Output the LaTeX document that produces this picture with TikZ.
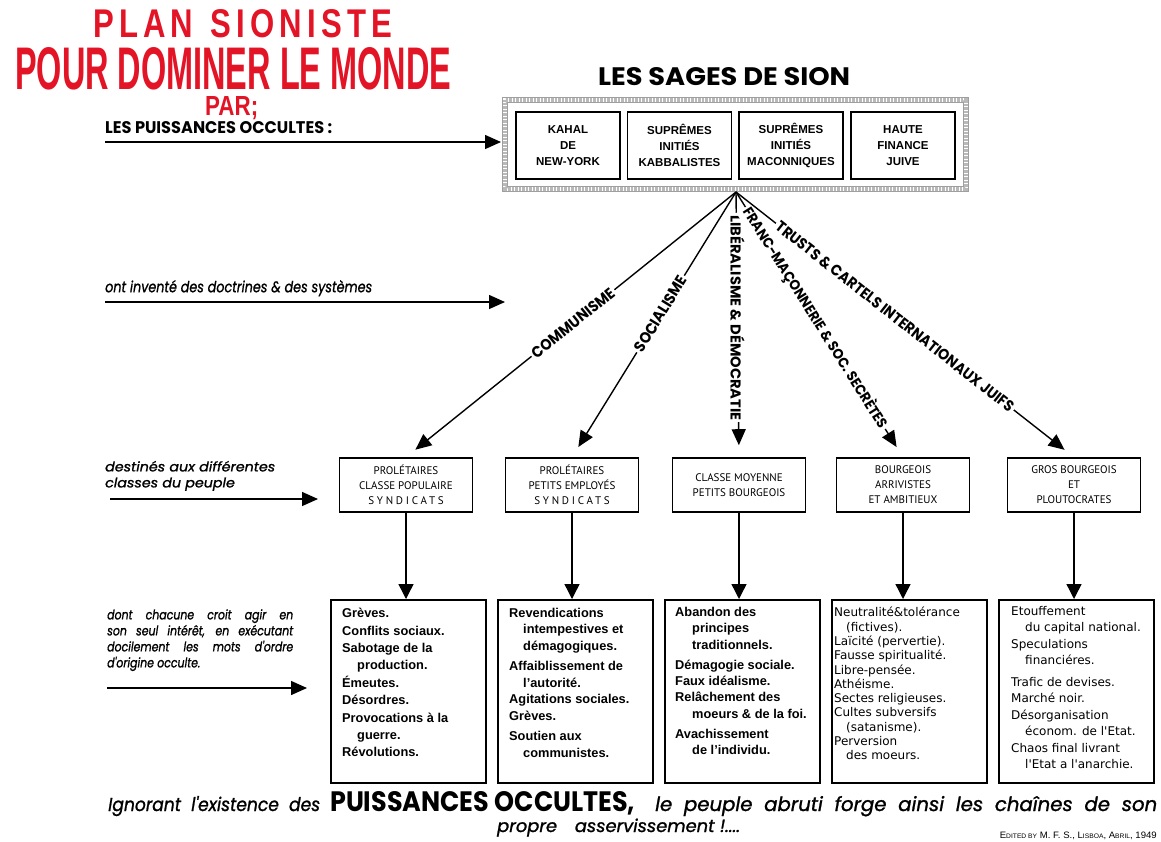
\documentclass[tikz,border=0pt]{standalone}
\usepackage{graphicx}
\usepackage{fontspec}
\setmainfont{Liberation Sans}
\newfontfamily\geo{Poppins}
\newfontfamily\pts{PT Sans}
\newfontfamily\dvs{DejaVu Sans}
\usetikzlibrary{arrows.meta,calc}
\definecolor{titlered}{RGB}{226,20,38}
\newcommand{\geoitm}{\geo\itshape\addfontfeature{FakeBold=1.2}}
\begin{document}
\begin{tikzpicture}[x=1pt,y=-1pt,
  arr/.style={line width=1.4pt, -{Triangle[length=16pt,width=14pt]}},
  fan/.style={line width=1.4pt, -{Triangle[length=16pt,width=14pt]}, shorten >=12pt},
  downarr/.style={line width=1.4pt, -{Triangle[length=15pt,width=15pt]}},
  topbox/.style={draw, line width=1.3pt, minimum width=104pt, minimum height=67pt, align=center, font=\fontsize{11.5}{16}\selectfont\bfseries, inner sep=0pt},
  classbox/.style={draw, line width=1.6pt, minimum width=133pt, minimum height=54pt, align=center, font=\pts\fontsize{11}{15}\selectfont, inner sep=0pt},
  effbox/.style={draw, line width=1.8pt, minimum width=155pt, minimum height=183pt, anchor=north west, inner sep=0pt},
  efftext/.style={anchor=north west, align=left, inner sep=0pt},
  lbl/.style={fill=white, inner sep=2pt, sloped},
  lblv/.style={fill=white, inner sep=2pt, rotate=-90},
  plain/.style={anchor=north west, inner sep=0pt},
]
\useasboundingbox (0,0) rectangle (1161,841);
\fill[white] (0,0) rectangle (1161,841);

% titles
\node[plain, text=titlered] (t1) at (93,9) {\resizebox{299pt}{28pt}{\bfseries P\,L\,A\,N\ \ S\,I\,O\,N\,I\,S\,T\,E}};
\node[plain, text=titlered] (t2) at (15,47) {\resizebox{436pt}{42pt}{\bfseries POUR DOMINER LE MONDE}};
\node[plain, text=titlered] (t3) at (205,96) {\resizebox{53pt}{19pt}{\bfseries PAR;}};
\node[plain] (t4) at (105,121) {\resizebox{227pt}{12pt}{\geo\bfseries LES PUISSANCES OCCULTES :}};
\node[plain] (sages) at (598,67) {\resizebox{252pt}{18pt}{\geo\bfseries LES SAGES DE SION}};

% frame of the top group
\node[minimum width=460pt, minimum height=88pt, anchor=north west, inner sep=0pt] (frame) at (505,100) {};
\draw[line width=5pt, gray!55, dash pattern=on 0.7pt off 0.7pt] (frame.north west) rectangle (frame.south east);
\draw[line width=0.5pt, gray!75] ($(frame.north west)+(-2.5,-2.5)$) rectangle ($(frame.south east)+(2.5,2.5)$);
\draw[line width=0.5pt, gray!75] ($(frame.north west)+(2.5,2.5)$) rectangle ($(frame.south east)+(-2.5,-2.5)$);

\node[topbox] (k1) at (568,145.5) {KAHAL\\DE\\NEW-YORK};
\node[topbox] (k2) at (679.5,145.5) {SUPRÊMES\\INITIÉS\\KABBALISTES};
\node[topbox] (k3) at (791,145.5) {SUPRÊMES\\INITIÉS\\MACONNIQUES};
\node[topbox] (k4) at (903,145.5) {HAUTE\\FINANCE\\JUIVE};

\coordinate (a1s) at (105,142);
\draw[arr] (a1s) -- ($(frame.west |- a1s)+(-4,0)$) coordinate (a1e);

% class boxes
\node[classbox] (ca) at (406,485) {PROLÉTAIRES\\CLASSE POPULAIRE\\{\addfontfeature{LetterSpace=25}SYNDICATS}};
\node[classbox] (cb) at (572,485) {PROLÉTAIRES\\PETITS EMPLOYÉS\\{\addfontfeature{LetterSpace=25}SYNDICATS}};
\node[classbox] (cc) at (739,485) {CLASSE MOYENNE\\PETITS BOURGEOIS};
\node[classbox] (cd) at (903,485) {BOURGEOIS\\ARRIVISTES\\ET AMBITIEUX};
\node[classbox] (ce) at (1074,485) {GROS BOURGEOIS\\ET\\PLOUTOCRATES};

% fan
\coordinate (apex) at (736,192);
\draw[fan] (apex) -- node[lbl,pos=0.494]{\resizebox{102pt}{11pt}{\geo\bfseries COMMUNISME}} (ca.north);
\draw[fan] (apex) -- node[lbl,pos=0.46]{\resizebox{86pt}{11pt}{\geo\bfseries SOCIALISME}} (cb.north);
\draw[fan] (apex) -- node[lblv,pos=0.475]{\resizebox{205pt}{14pt}{\geo\bfseries LIBÉRALISME \& DÉMOCRATIE}} (cc.north);
\draw[fan] (apex) -- node[lbl,pos=0.475]{\resizebox{258pt}{14pt}{\geo\bfseries FRANC-MAÇONNERIE \& SOC. SECRÈTES}} (cd.north);
\draw[fan] (apex) -- node[lbl,pos=0.47]{\resizebox{298pt}{11pt}{\geo\bfseries TRUSTS \& CARTELS INTERNATIONAUX JUIFS}} (ce.north);

% effect boxes
\node[effbox] (ea) at (330,599) {};
\node[effbox] (eb) at (497,599) {};
\node[effbox] (ec) at (664,599) {};
\node[effbox] (ed) at (831,599) {};
\node[effbox] (ee) at (998,599) {};

\foreach \c/\e in {ca/ea,cb/eb,cc/ec,cd/ed,ce/ee}
  \draw[downarr] (\c.south) -- (\c.south |- \e.north);

\node[efftext, font=\bfseries\fontsize{12.8}{17.4}\selectfont] (ta) at (342,608) {Grèves.\\
Conflits sociaux.\\
Sabotage de la\\
\hspace*{15pt}production.\\
Émeutes.\\
Désordres.\\
Provocations à la\\
\hspace*{15pt}guerre.\\
Révolutions.};

\node[efftext, font=\bfseries\fontsize{12.8}{16.5}\selectfont] (tb) at (509,608) {Revendications\\
\hspace*{14pt}intempestives et\\
\hspace*{14pt}démagogiques.\\[4pt]
Affaiblissement de\\
\hspace*{14pt}l'autorité.\\
Agitations sociales.\\
Grèves.\\[4pt]
Soutien aux\\
\hspace*{14pt}communistes.};

\node[efftext, font=\bfseries\fontsize{12.8}{16.3}\selectfont] (tc) at (675,607) {Abandon des\\
\hspace*{17pt}principes\\
\hspace*{17pt}traditionnels.\\[4pt]
Démagogie sociale.\\
Faux idéalisme.\\
Relâchement des\\
\hspace*{17pt}moeurs \& de la foi.\\[4pt]
Avachissement\\
\hspace*{17pt}de l'individu.};

\node[efftext, font=\dvs\fontsize{12}{14.3}\selectfont] (td) at (834,607) {Neutralité\&tolérance\\
\hspace*{12pt}(fictives).\\
Laïcité (pervertie).\\
Fausse spiritualité.\\
Libre-pensée.\\
Athéisme.\\
Sectes religieuses.\\
Cultes subversifs\\
\hspace*{12pt}(satanisme).\\
Perversion\\
\hspace*{12pt}des moeurs.};

\node[efftext, font=\dvs\fontsize{12}{16.5}\selectfont] (te) at (1011,606) {Etouffement\\
\hspace*{14pt}du capital national.\\
Speculations\\
\hspace*{14pt}financiéres.\\[5pt]
Trafic de devises.\\
Marché noir.\\
Désorganisation\\
\hspace*{14pt}économ. de l'Etat.\\
Chaos final livrant\\
\hspace*{14pt}l'Etat a l'anarchie.};

% left column
\node[plain] (l2) at (105,280) {\resizebox*{267pt}{16pt}{\geoitm ont inventé des doctrines \& des systèmes}};
\coordinate (a2s) at (105,302);
\coordinate (a2e) at (505,302);
\draw[arr] (a2s) -- (a2e);

\node[plain] (l3) at (105,460) {\resizebox*{170pt}{32pt}{\geoitm\begin{tabular}{@{}l@{}}destinés aux différentes\\classes du peuple\end{tabular}}};
\coordinate (a3s) at (110,499);
\coordinate (a3e) at (318,499);
\draw[arr] (a3s) -- (a3e);

\node[plain] (l4) at (107,608) {\resizebox*{186pt}{64pt}{\geoitm\begin{tabular}{@{}l@{}}\makebox[170pt][s]{dont chacune croit agir en}\\\makebox[170pt][s]{son seul intérêt, en exécutant}\\\makebox[170pt][s]{docilement les mots d'ordre}\\d'origine occulte.\end{tabular}}};
\coordinate (a4s) at (107,688);
\coordinate (a4e) at (307,688);
\draw[arr] (a4s) -- (a4e);

% bottom
\node[anchor=base west, inner sep=0pt] (b1) at (108,811) {\resizebox{212pt}{15pt}{\geoitm Ignorant\ \ l'existence\ \ des}};
\node[anchor=base west, inner sep=0pt] (b1b) at (330,811) {\resizebox{305pt}{20pt}{\geo\bfseries PUISSANCES\ OCCULTES,}};
\node[anchor=base west, inner sep=0pt] (b1c) at (655,811) {\resizebox{502pt}{15pt}{\geoitm le\ \ peuple\ \ abruti\ \ forge\ \ ainsi\ \ les\ \ chaînes\ \ de\ \ son}};
\node[anchor=base west, inner sep=0pt] (b2) at (497,832) {\resizebox*{243pt}{18pt}{\geoitm propre\quad asservissement !....}};
\node[anchor=base east, inner sep=0pt] (edn) at (1157,838) {\resizebox{157pt}{6.5pt}{E{\scriptsize DITED BY} M. F. S., L{\scriptsize ISBOA}, A{\scriptsize BRIL}, 1949}};
\end{tikzpicture}
\end{document}
